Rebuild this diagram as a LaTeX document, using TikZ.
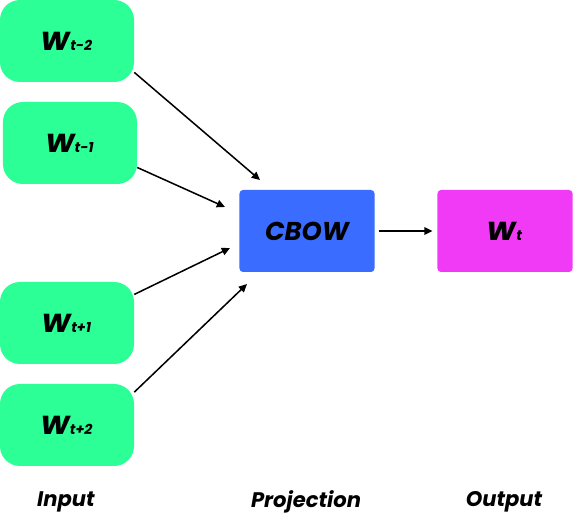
\documentclass[tikz,border=0pt]{standalone}
\usepackage{fontspec}
\setmainfont{Poppins}
\usepackage{xcolor}
\usepackage{tikz}
\usetikzlibrary{arrows.meta}
\definecolor{cWord}{HTML}{2CFF95}
\definecolor{cProj}{HTML}{3A6CFF}
\definecolor{cOut}{HTML}{F03AF6}
\definecolor{cEdge}{HTML}{000000}

\begin{document}
\begin{tikzpicture}[
  x=0.03cm, y=-0.03cm,
  every node/.style={font=\bfseries\itshape},
  word/.style={fill=cWord, rounded corners=17pt, minimum width=4.02cm, minimum height=2.46cm, inner sep=0pt},
  proj/.style={fill=cProj, rounded corners=3pt, minimum width=4.05cm, minimum height=2.46cm, inner sep=0pt},
  outb/.style={fill=cOut, rounded corners=3pt, minimum width=4.05cm, minimum height=2.46cm, inner sep=0pt},
  collabel/.style={font=\fontsize{18}{20}\selectfont\bfseries\itshape},
  ar/.style={-{Triangle[length=7pt,width=6.5pt]}, line width=1.3pt, draw=cEdge}
]
\newcommand{\wrd}[1]{{\fontsize{28}{30}\selectfont w}{\fontsize{12}{14}\selectfont #1}}
\useasboundingbox (0,0) rectangle (574,515);

% Input
\node[word] (wa) at (67,41) {\wrd{t-2}};
\node[word] (wb) at (70,143) {\wrd{t-1}};
\node[word] (wc) at (67,323) {\wrd{t+1}};
\node[word] (wd) at (67,425) {\wrd{t+2}};

% Projection and output
\node[proj] (cbow) at (307,231) {\fontsize{22}{24}\selectfont CBOW};
\node[outb] (wt) at (505,231) {\wrd{t}};

\coordinate (ina) at (260,180);
\coordinate (inb) at (225,207);
\coordinate (inc) at (230,248);
\coordinate (ind) at (247,284);

\draw[ar] (wa.-25) -- (ina);
\draw[ar] (wb.-20) -- (inb);
\draw[ar] (wc.23) -- (inc);
\draw[ar] (wd.26) -- (ind);
\draw[ar, shorten <=4pt, shorten >=4pt] (cbow) -- (wt);

% Column labels
\node[collabel] (lin) at (66,502) {Input};
\node[collabel] (lproj) at (306,502) {Projection};
\node[collabel] (lout) at (504,502) {Output};
\end{tikzpicture}
\end{document}
